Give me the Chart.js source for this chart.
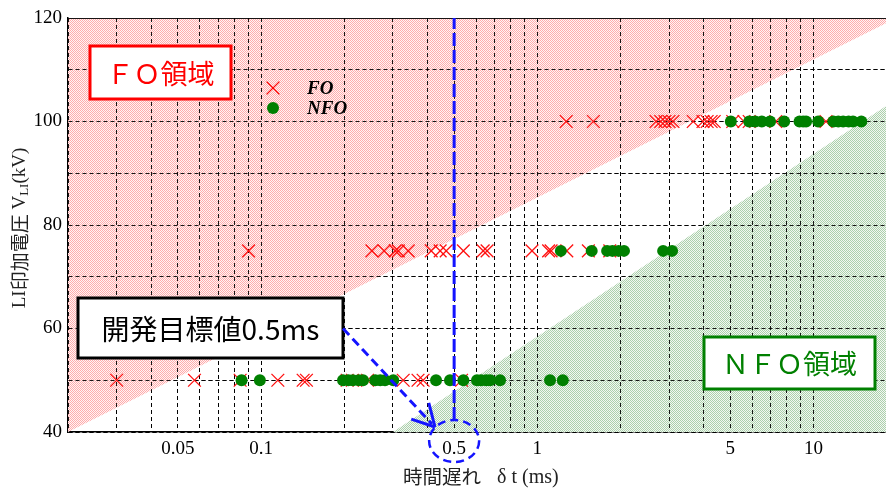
<!DOCTYPE html>
<html><head><meta charset="utf-8">
<script src="https://cdn.jsdelivr.net/npm/chart.js@4.4.1/dist/chart.umd.min.js"></script>
<style>html,body{margin:0;padding:0;background:#fff;}#wrap{width:886px;height:490px;position:relative;}</style>
</head><body><div id="wrap"><canvas id="c" width="886" height="490"></canvas></div>
<script>
// ---- data (delay time δt in ms, applied LI voltage in kV) ----
const foDelay50  = [0.030, 0.0574, 0.084, 0.115, 0.142, 0.146, 0.205, 0.214, 0.243, 0.327, 0.370, 0.386, 0.532];
const nfoDelay50 = [0.085, 0.099, 0.198, 0.207, 0.215, 0.226, 0.234, 0.259, 0.270, 0.281, 0.301, 0.430, 0.483, 0.540, 0.605, 0.626, 0.653, 0.675, 0.733, 1.112, 1.237];
const foDelay75  = [0.0901, 0.252, 0.279, 0.306, 0.314, 0.341, 0.413, 0.445, 0.468, 0.540, 0.637, 0.658, 0.957, 1.099, 1.122, 1.279, 1.531, 1.83];
const nfoDelay75 = [1.217, 1.574, 1.79, 1.87, 1.97, 2.06, 2.855, 3.076];
const foDelay100 = [1.272, 1.596, 2.69, 2.80, 2.90, 3.00, 3.10, 3.67, 3.98, 4.12, 4.26, 4.37, 5.1, 5.6, 5.85, 7.3, 11.1];
const nfoDelay100= [5.02, 5.85, 6.15, 6.5, 6.96, 7.83, 8.9, 9.17, 9.4, 10.4, 11.8, 12.3, 12.8, 13.4, 13.9, 14.9];
const voltageLevels = [50, 75, 100];

const xGridValues = [0.02,0.03,0.04,0.05,0.06,0.07,0.08,0.09,0.1,0.2,0.3,0.4,0.5,0.6,0.7,0.8,0.9,1,2,3,4,5,6,7,8,9,10];
const xLabelValues = [0.05, 0.1, 0.5, 1, 5, 10];
const yLabelValues = [40, 60, 80, 100, 120];
const xRange = [0.02, 18.3];
const yRange = [40, 120];
const targetDelay = 0.5;
// region boundaries (FO region above, NFO region below)
const foBoundary  = [{x:0.02, y:40}, {x:20, y:120}];
const nfoBoundary = [{x:0.3, y:40}, {x:18.3, y:103}];

function pts(xs, y){ return xs.map(x => ({x:x, y:y})); }
const foPoints  = [].concat(pts(foDelay50, voltageLevels[0]), pts(foDelay75, voltageLevels[1]), pts(foDelay100, voltageLevels[2]));
const nfoPoints = [].concat(pts(nfoDelay50, voltageLevels[0]), pts(nfoDelay75, voltageLevels[1]), pts(nfoDelay100, voltageLevels[2]));

function makePattern(dot, bg){
  const c = document.createElement('canvas'); c.width = 2; c.height = 2;
  const g = c.getContext('2d');
  g.fillStyle = bg; g.fillRect(0,0,2,2);
  g.fillStyle = dot; g.fillRect(0,0,1,1); g.fillRect(1,1,1,1);
  return g.createPattern(c, 'repeat');
}
const pinkPat = makePattern('rgb(255,172,172)', 'rgb(255,244,244)');
const greenPat = makePattern('rgb(172,208,172)', 'rgb(242,248,242)');

const near = (a,b) => Math.abs(a-b) < 1e-9*Math.max(1,Math.abs(b));

const regrid = {
  id:'regrid',
  afterDatasetDraw(chart, args){
    if (chart.data.datasets[args.index].label === 'NFO region') {
      chart.scales.x.drawGrid(chart.chartArea);
      chart.scales.y.drawGrid(chart.chartArea);
    }
  }
};

const BLUE = '#1414ff';
const annot = {
  id:'annot',
  afterDraw(chart){
    const ctx = chart.ctx, xs = chart.scales.x, ys = chart.scales.y;
    ctx.save();
    function box(x,y,w,h,color,text,font){
      ctx.fillStyle = '#fff'; ctx.fillRect(x,y,w,h);
      ctx.lineWidth = 3; ctx.strokeStyle = color; ctx.setLineDash([]);
      ctx.strokeRect(x,y,w,h);
      ctx.fillStyle = color; ctx.font = font;
      ctx.textAlign = 'center'; ctx.textBaseline = 'middle';
      ctx.fillText(text, x+w/2, y+h/2+1);
    }
    box(90, 46, 141, 53, '#ff0000', 'ＦＯ領域', '27px "Noto Sans CJK JP"');
    box(704, 337, 171, 52, '#008000', 'ＮＦＯ領域', '27px "Noto Sans CJK JP"');
    box(78, 298, 265, 60, '#000000', '開発目標値0.5ms', '28px "Noto Sans CJK JP"');

    // arrow
    const sx = 343, sy = ys.getPixelForValue(60);
    const tx = 435, ty = 427;
    ctx.strokeStyle = BLUE; ctx.lineWidth = 3;
    ctx.setLineDash([9,5]);
    ctx.beginPath(); ctx.moveTo(sx, sy); ctx.lineTo(tx-3, ty-3); ctx.stroke();
    ctx.setLineDash([]);
    const ang = Math.atan2(sy-ty, sx-tx);
    [0.5, -0.5].forEach(d => {
      ctx.beginPath(); ctx.moveTo(tx, ty);
      ctx.lineTo(tx + 25*Math.cos(ang+d), ty + 25*Math.sin(ang+d)); ctx.stroke();
    });
    // circle around 0.5 label
    const cx = xs.getPixelForValue(targetDelay);
    ctx.setLineDash([8,5]); ctx.lineWidth = 2.5;
    ctx.beginPath(); ctx.ellipse(cx, 441, 25, 21, 0, 0, Math.PI*2); ctx.stroke();
    ctx.setLineDash([]);

    // legend
    ctx.strokeStyle = '#ff0000'; ctx.lineWidth = 1.3;
    const lx = 273, ly1 = 88, ly2 = 108, r = 6.4;
    ctx.beginPath(); ctx.moveTo(lx-r, ly1-r); ctx.lineTo(lx+r, ly1+r);
    ctx.moveTo(lx+r, ly1-r); ctx.lineTo(lx-r, ly1+r); ctx.stroke();
    ctx.fillStyle = '#008000';
    ctx.beginPath(); ctx.arc(lx, ly2, 6, 0, Math.PI*2); ctx.fill();
    ctx.fillStyle = '#000'; ctx.font = 'italic bold 19px "Liberation Serif"';
    ctx.textAlign = 'left'; ctx.textBaseline = 'middle';
    ctx.fillText('FO', 307, ly1+1); ctx.fillText('NFO', 307, ly2+1);

    // x title
    ctx.fillStyle = '#222';
    ctx.textBaseline = 'middle'; ctx.textAlign = 'left';
    ctx.font = '19.5px "Noto Sans CJK JP"';
    ctx.fillText('時間遅れ', 403, 477);
    ctx.font = '20px "Liberation Serif"';
    ctx.fillText('δ t (ms)', 497, 478);

    // y title with subscript
    ctx.fillStyle = '#222';
    ctx.translate(20, 228); ctx.rotate(-Math.PI/2);
    const parts = [
      {t:'LI', f:'19px "Liberation Serif"', dy:0},
      {t:'印加電圧', f:'19px "Noto Sans CJK JP"', dy:0},
      {t:' V', f:'19px "Liberation Serif"', dy:0},
      {t:'LI', f:'13px "Liberation Serif"', dy:5},
      {t:'(kV)', f:'19px "Liberation Serif"', dy:0}
    ];
    let total = 0;
    parts.forEach(p => { ctx.font = p.f; p.w = ctx.measureText(p.t).width; total += p.w; });
    let px = -total/2;
    ctx.textAlign = 'left';
    parts.forEach(p => { ctx.font = p.f; ctx.fillText(p.t, px, p.dy); px += p.w; });
    ctx.restore();
  }
};

new Chart(document.getElementById('c'), {
  type: 'scatter',
  data: {
    datasets: [
      { label:'target', data:[{x:targetDelay,y:42.3},{x:targetDelay,y:120}], showLine:true,
        borderColor:BLUE, borderWidth:3, borderDash:[13,4], pointRadius:0, fill:false, order:0 },
      { label:'NFO', data:nfoPoints, pointStyle:'circle', pointRadius:6, pointBorderWidth:0,
        backgroundColor:'#008000', borderColor:'#008000', order:1 },
      { label:'FO', data:foPoints, pointStyle:'crossRot', pointRadius:9, pointBorderWidth:1.3,
        borderColor:'#ff1010', backgroundColor:'#ff1010', order:2 },
      { label:'NFO region', data:nfoBoundary, showLine:true, borderWidth:0, pointRadius:0,
        fill:'start', backgroundColor:greenPat, borderColor:'rgba(0,0,0,0)', order:3 },
      { label:'FO region', data:foBoundary, showLine:true, borderWidth:0, pointRadius:0,
        fill:'end', backgroundColor:pinkPat, borderColor:'rgba(0,0,0,0)', order:4 }
    ]
  },
  options: {
    responsive:false, animation:false, devicePixelRatio:1,
    layout:{ autoPadding:false, padding:{top:18, right:0, left:0, bottom:0} },
    plugins:{ legend:{display:false}, tooltip:{enabled:false} },
    scales:{
      x:{
        type:'logarithmic', min:xRange[0], max:xRange[1],
        afterBuildTicks(s){ s.ticks = xGridValues.concat([xRange[1]]).map(v => ({value:v})); },
        afterFit(s){ s.height = 58; s.paddingRight = 0; s.paddingLeft = 0; },
        ticks:{ autoSkip:false, maxRotation:0, minRotation:0, padding:0, color:'#000',
          font:{family:'"Liberation Serif"', size:19},
          callback(v){ return xLabelValues.some(l => near(l, v)) ? String(v) : ''; } },
        grid:{ color(c){ return (c.tick && near(c.tick.value, xRange[1])) ? 'rgba(0,0,0,0)' : 'rgba(0,0,0,0.9)'; },
          lineWidth:1, drawTicks:true, tickLength:6, tickColor:'rgba(0,0,0,0)' },
        border:{ display:true, color:'#000', width:1.5, dash:[4,3] }
      },
      y:{
        type:'linear', min:yRange[0], max:yRange[1],
        afterFit(s){ s.width = 68; },
        ticks:{ stepSize:10, padding:6, color:'#000', font:{family:'"Liberation Serif"', size:19},
          callback(v){ return yLabelValues.includes(v) ? String(v) : ''; } },
        grid:{ color:'rgba(0,0,0,0.9)', lineWidth:1, drawTicks:false },
        border:{ display:true, color:'#000', width:1.5,
          dash(ctx){ return (ctx.tick && ctx.tick.value === yRange[1]) ? [] : [4,3]; } }
      }
    }
  },
  plugins:[regrid, annot]
});
</script></body></html>
